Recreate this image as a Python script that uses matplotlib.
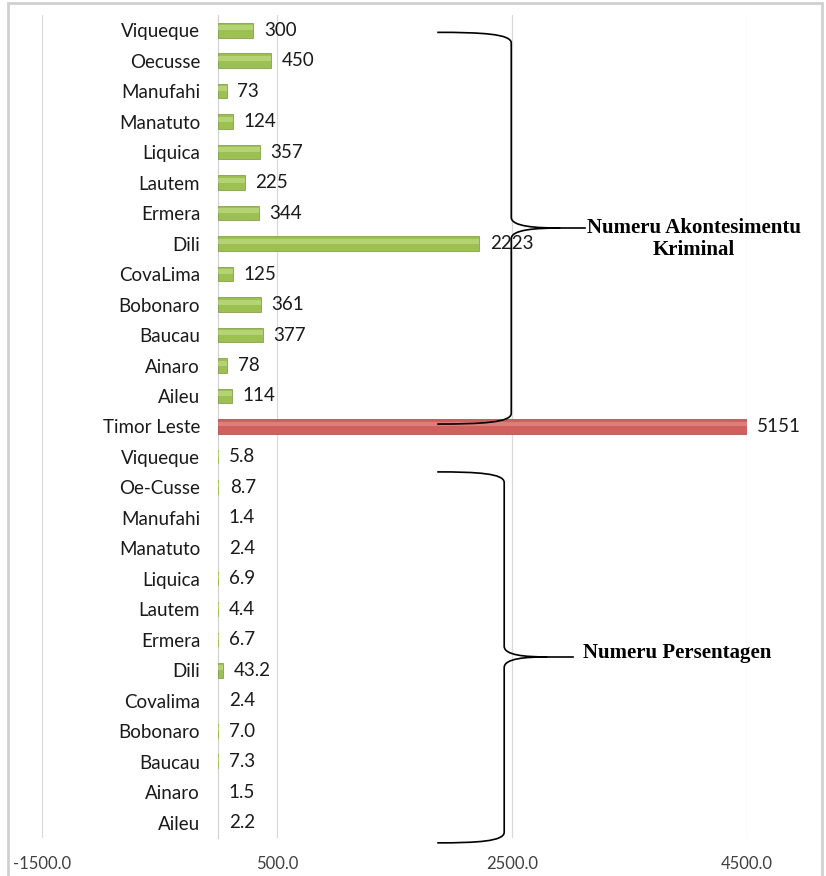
import numpy as np
import matplotlib.pyplot as plt
from matplotlib.path import Path
from matplotlib.patches import PathPatch, Rectangle

# --- data ---
district_counts = ["Viqueque", "Oecusse", "Manufahi", "Manatuto", "Liquica", "Lautem",
                   "Ermera", "Dili", "CovaLima", "Bobonaro", "Baucau", "Ainaro", "Aileu"]
counts = [300, 450, 73, 124, 357, 225, 344, 2223, 125, 361, 377, 78, 114]

total_label = "Timor Leste"
total_count = 5151

district_pct = ["Viqueque", "Oe-Cusse", "Manufahi", "Manatuto", "Liquica", "Lautem",
                "Ermera", "Dili", "Covalima", "Bobonaro", "Baucau", "Ainaro", "Aileu"]
percents = [5.8, 8.7, 1.4, 2.4, 6.9, 4.4, 6.7, 43.2, 2.4, 7.0, 7.3, 1.5, 2.2]

x_ticks = [-1500, 500, 2500, 4500]
x_min, x_max = -1500, 4500

labels = district_counts + [total_label] + district_pct
values = counts + [total_count] + percents
is_total = [False] * len(counts) + [True] + [False] * len(percents)
label_fmt = ["{:.0f}"] * (len(counts) + 1) + ["{:.1f}"] * len(percents)

SANS = "Lato"
SERIF = "Liberation Serif"

fig = plt.figure(figsize=(8.26, 8.76), dpi=100)
ax = fig.add_axes([0.0508, 0.0434, 0.8535, 0.9395])

pos = np.arange(len(labels))
green, green_edge, green_hi = "#9cc152", "#76973a", "#c9e28f"
red, red_edge, red_hi = "#d0605e", "#a84543", "#eb9795"

face = [red if t else green for t in is_total]
edge = [red_edge if t else green_edge for t in is_total]
hi = [red_hi if t else green_hi for t in is_total]
# only draw an outline where the bar is wide enough to show one
lw = [0.5 if v > 20 else 0 for v in values]

ax.barh(pos, values, height=0.48, color=face, edgecolor=edge, linewidth=lw, zorder=3)
# soft light stripe to hint at the bevelled look of the original bars
ax.barh(pos - 0.08, values, height=0.16, color=hi, linewidth=0, alpha=0.55, zorder=4)

for p, v, fmt in zip(pos, values, label_fmt):
    ax.annotate(fmt.format(v), xy=(min(v, x_max), p), xytext=(7.5, 0),
                textcoords="offset points", ha="left", va="center",
                fontsize=13.5, family=SANS, color="#1a1a1a", annotation_clip=False)

ax.set_xlim(x_min, x_max)
ax.set_ylim(len(labels) - 0.5, -0.5)
ax.set_xticks(x_ticks)
ax.set_xticklabels([f"{t:.1f}" for t in x_ticks])
ax.set_yticks(pos)
ax.set_yticklabels(labels)
ax.tick_params(axis="y", length=0, pad=13, labelsize=13.5, labelcolor="#1a1a1a",
               labelfontfamily=SANS)
ax.tick_params(axis="x", length=0, pad=13, labelsize=12, labelcolor="#404040",
               labelfontfamily=SANS)
ax.grid(axis="x", color="#d9d9d9", linewidth=0.9, zorder=0)
for side in ["top", "right", "bottom"]:
    ax.spines[side].set_visible(False)
ax.spines["left"].set_position(("data", 0))
ax.spines["left"].set_color("#d0d0d0")
ax.spines["left"].set_zorder(2)


def brace(x_end, x_spine, x_tip, x_line, y_top, y_tip, y_bot, dy=0.35):
    """Hand-drawn style curly brace opening to the left, tip to the right."""
    k = x_spine - x_end
    verts = [
        (x_end, y_top),
        (x_end + 0.6 * k, y_top), (x_spine, y_top + 0.05), (x_spine, y_top + dy),
        (x_spine, y_tip - dy),
        (x_spine, y_tip - 0.05), (x_tip - 0.5 * (x_tip - x_spine), y_tip), (x_tip, y_tip),
        (x_tip - 0.5 * (x_tip - x_spine), y_tip), (x_spine, y_tip + 0.05), (x_spine, y_tip + dy),
        (x_spine, y_bot - dy),
        (x_spine, y_bot - 0.05), (x_end + 0.6 * k, y_bot), (x_end, y_bot),
    ]
    codes = [Path.MOVETO,
             Path.CURVE4, Path.CURVE4, Path.CURVE4,
             Path.LINETO,
             Path.CURVE4, Path.CURVE4, Path.CURVE4,
             Path.CURVE4, Path.CURVE4, Path.CURVE4,
             Path.LINETO,
             Path.CURVE4, Path.CURVE4, Path.CURVE4]
    ax.add_patch(PathPatch(Path(verts, codes), fill=False, edgecolor="black",
                           linewidth=1.2, zorder=6, clip_on=False))
    ax.plot([x_tip, x_line], [y_tip, y_tip], color="black", linewidth=1.2,
            zorder=6, clip_on=False)


brace(1864, 2494, 2911, 3123, 0.07, 6.49, 12.92)
brace(1864, 2434, 2800, 3021, 14.49, 20.56, 26.66)

ax.text(4047, 6.49, "Numeru Akontesimentu", ha="center", va="center",
        family=SERIF, fontweight="bold", fontsize=15, zorder=7)
ax.text(4047, 7.21, "Kriminal", ha="center", va="center",
        family=SERIF, fontweight="bold", fontsize=15, zorder=7)
ax.text(3106, 20.43, "Numeru Persentagen", ha="left", va="center",
        family=SERIF, fontweight="bold", fontsize=15, zorder=7)

# light frame around the chart area
fig.patches.append(Rectangle((8 / 826, -0.05), 814 / 826, 1.05 - 3 / 876,
                             transform=fig.transFigure, fill=False,
                             edgecolor="#d0d0d0", linewidth=2))

fig.savefig("out.png", dpi=100)
